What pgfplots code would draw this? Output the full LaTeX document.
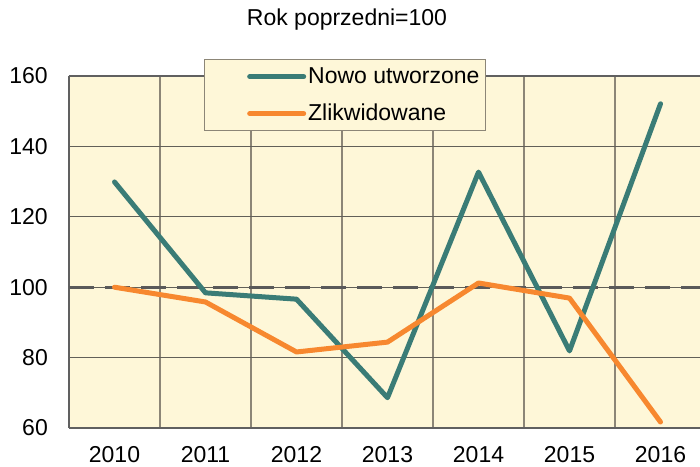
\documentclass[border=0pt]{standalone}
\usepackage{fontspec}
\setmainfont{Liberation Sans}
\usepackage{pgfplots}
\pgfplotsset{compat=1.18}
\definecolor{teal1}{HTML}{3A7C76}
\definecolor{orange1}{HTML}{F7882F}
\definecolor{bgy}{HTML}{FEF7D8}
\definecolor{border}{HTML}{606060}
\definecolor{gridv}{HTML}{8C8677}
\definecolor{gridh}{HTML}{626058}
\definecolor{dashc}{HTML}{5A5A5A}
\begin{document}
\begin{tikzpicture}
\begin{axis}[
  at={(0,0)}, anchor=south west,
  scale only axis, width=631pt, height=352pt,
  xmin=-0.5, xmax=6.434, ymin=60, ymax=160,
  ytick={60,80,...,160},
  xtick={0,...,6},
  xticklabels={2010,2011,2012,2013,2014,2015,2016},
  minor xtick={0.5,1.5,...,5.5},
  xminorgrids=true, xmajorgrids=false, ymajorgrids=true,
  minor x grid style={gridv, line width=1.3pt},
  major y grid style={gridh, line width=1.3pt},
  axis x line*=box, axis y line*=left,
  axis line style={-, border, line width=1.5pt},
  major tick length=0pt, minor tick length=0pt,
  axis background/.style={fill=bgy},
  font=\fontsize{23}{27}\selectfont,
  tick label style={font=\fontsize{23}{27}\selectfont},
  /pgf/number format/assume math mode=true,
  yticklabel style={anchor=east, inner sep=0pt, xshift=-21pt},
  xticklabel style={anchor=north, inner sep=0pt, yshift=-18pt},
  title={Rok poprzedni=100},
  title style={at={(0.4406,1)}, anchor=base, yshift=44pt, inner sep=0pt, font=\fontsize{23}{27}\selectfont},
  legend cell align=left,
  legend image code/.code={\path[draw=none] (-41pt,0pt) -- (0pt,0pt); \draw[#1] (0pt,0pt) -- (54pt,0pt);},
  legend style={at={(0.214,1.048)}, anchor=north west, fill=bgy, draw=gridv, line width=1.3pt,
    inner xsep=4pt, inner ysep=6pt, row sep=15pt,
    nodes={inner sep=2pt, text height=16pt, text depth=2pt},
    font=\fontsize{23}{27}\selectfont},
]
\addplot[dashc, line width=3pt, dash pattern=on 25pt off 11pt, forget plot] coordinates {(-0.5,100) (6.434,100)};
\addplot[teal1, line width=5pt, line cap=round, line join=round] coordinates {
(0,129.9) (1,98.4) (2,96.6) (3,68.6) (4,132.7) (5,81.9) (6,152.1)};
\addlegendentry{Nowo utworzone}
\addplot[orange1, line width=5pt, line cap=round, line join=round] coordinates {
(0,100) (1,95.8) (2,81.6) (3,84.4) (4,101.2) (5,96.9) (6,61.7)};
\addlegendentry{Zlikwidowane}
\end{axis}
\pgfresetboundingbox
\path (-69pt,-38pt) rectangle (631pt,428pt);
\end{tikzpicture}
\end{document}
